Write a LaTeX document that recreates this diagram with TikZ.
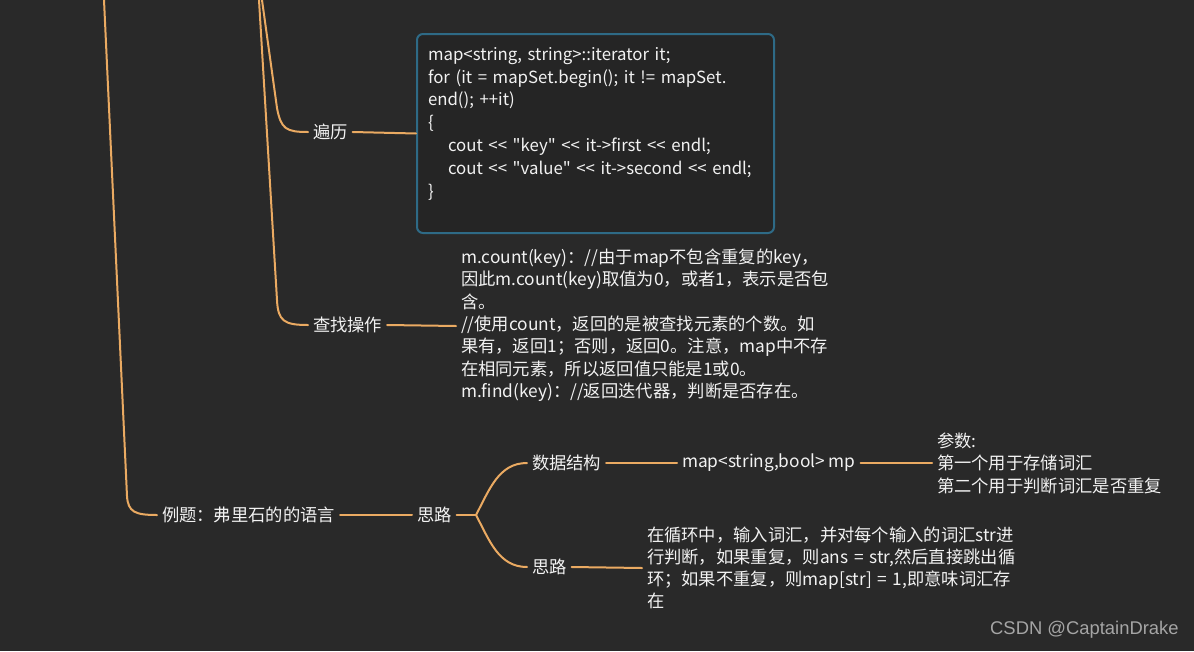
\documentclass[tikz,border=0pt]{standalone}
\usepackage{fontspec}
\newfontfamily\mainf{Noto Sans CJK SC}
\newfontfamily\wmfont{Liberation Sans}
\definecolor{bgc}{RGB}{41,41,41}
\definecolor{boxfill}{RGB}{37,37,37}
\definecolor{boxline}{RGB}{46,106,134}
\definecolor{branch}{RGB}{234,170,98}
\definecolor{txt}{RGB}{242,242,242}
\definecolor{wm}{RGB}{165,165,165}
\tikzset{
  lbl/.style={inner sep=0pt, outer xsep=5pt, text=txt, anchor=west,
    font=\mainf\fontsize{17.3}{22.5}\selectfont, align=left},
  blk/.style={lbl, text width=#1},
  conn/.style={draw=branch, line width=2pt, line cap=round},
  codebox/.style={draw=boxline, line width=2pt, fill=boxfill, rounded corners=6pt,
    anchor=north west, inner xsep=11pt, inner ysep=8pt, text width=335pt,
    minimum height=199pt, align=left, text=txt,
    font=\mainf\fontsize{16.8}{22.8}\selectfont}
}
\begin{document}
\begin{tikzpicture}[x=1pt,y=-1pt]
\useasboundingbox (0,0) rectangle (1194,651);
\fill[bgc] (0,0) rectangle (1194,651);

% free ends at the top edge
\coordinate (t0) at (104,0);
\coordinate (t1) at (262,0);
\coordinate (t2) at (259,0);

% nodes
\node[lbl] (bl) at (308,132) {遍历};
\node[codebox] (box) at (416,33) {map<string, string>::iterator it;\\
for (it = mapSet.begin(); it != mapSet.\\
end(); ++it)\\
\{\\
\hspace*{20pt}cout << "key" << it->first << endl;\\
\hspace*{20pt}cout << "value" << it->second << endl;\\
\}\\
\mbox{}};
\node[inner sep=0pt, outer xsep=5pt, text=txt, anchor=west,
  font=\mainf\fontsize{17.3}{22.3}\selectfont] (czt) at (456,326)
{\begin{tabular}{@{}l@{}}m.count(key)：//由于map不包含重复的key，\\
因此m.count(key)取值为0，或者1，表示是否包\\
含。\\
//使用count，返回的是被查找元素的个数。如\\
果有，返回1；否则，返回0。注意，map中不存\\
在相同元素，所以返回值只能是1或0。\\
m.find(key)：//返回迭代器，判断是否存在。\end{tabular}};
\node[lbl] (cz) at (308,325) {查找操作};
\node[lbl] (ex) at (157,515) {例题：弗里石的的语言};
\node[lbl] (sl1) at (412,515) {思路};
\node[lbl] (sj) at (527,463) {数据结构};
\node[lbl] (mp) at (677,463) {map<string,bool> mp};
\node[blk=240pt] (cs) at (932,463) {参数:\\
第一个用于存储词汇\\
第二个用于判断词汇是否重复};
\node[lbl] (sl2) at (527,567) {思路};
\node[blk=385pt, font=\mainf\fontsize{17.3}{22}\selectfont] (slt) at (642,568) {在循环中，输入词汇，并对每个输入的词汇str进\\
行判断，如果重复，则ans = str,然后直接跳出循\\
环；如果不重复，则map[str] = 1,即意味词汇存\\
在};
\node[anchor=west, inner sep=0pt, text=wm, font=\wmfont\fontsize{18.4}{20}\selectfont] (wmk) at (990,630) {CSDN @CaptainDrake};

\coordinate (j) at (476,515);

% connectors
\draw[conn] (t0) -- (127,496) .. controls (128,512) and (135,515) .. (ex.west);
\draw[conn] (t1) -- (277,108) .. controls (281,129) and (286,132) .. (bl.west);
\draw[conn] (t2) -- (277,300) .. controls (278,321) and (284,325) .. (cz.west);
\draw[conn] (bl.east) -- (box.west);
\draw[conn] (cz.east) -- (czt.west);
\draw[conn] (ex.east) -- (sl1.west);
\draw[conn] (sl1.east) -- (j);
\draw[conn] (j) to[out=62,in=180] (sj.west);
\draw[conn] (j) to[out=-62,in=180] (sl2.west);
\draw[conn] (sj.east) -- (mp.west);
\draw[conn] (mp.east) -- (cs.west);
\draw[conn] (sl2.east) -- (slt.west);
\end{tikzpicture}
\end{document}
